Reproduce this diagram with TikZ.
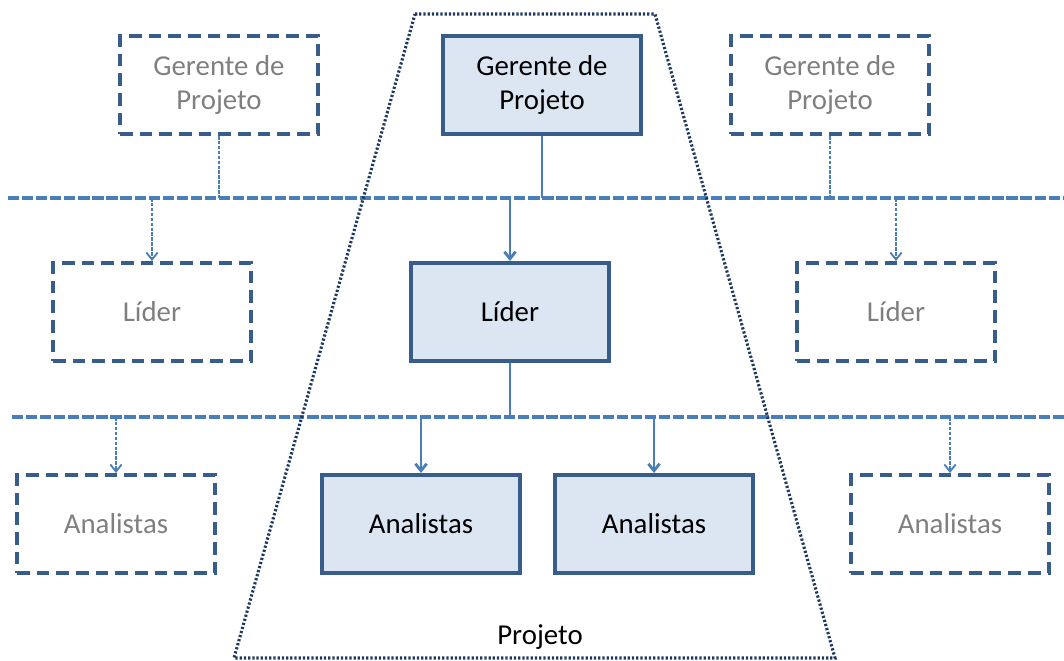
\documentclass[tikz,border=0pt]{standalone}
\usepackage{fontspec}
\setmainfont{Carlito}
\usetikzlibrary{arrows.meta,positioning,calc}
\definecolor{boxline}{HTML}{385D8A}
\definecolor{boxfill}{HTML}{DCE6F2}
\definecolor{linkblue}{HTML}{4A7EBB}
\definecolor{ghosttext}{HTML}{7F7F7F}
\definecolor{projline}{HTML}{1F3A60}

\begin{document}
\begin{tikzpicture}[x=0.025cm,y=-0.025cm,>={Straight Barb[length=5pt,width=8pt]},
  font=\fontsize{20.5}{24}\selectfont]
\tikzstyle{role} = [draw = boxline, rectangle, line width = 2.8pt, minimum width = 4.95cm,
                    minimum height = 2.45cm, inner sep = 0pt, align = center]
\tikzstyle{inproj} = [role, fill = boxfill, text = black]
\tikzstyle{other} = [role, dash pattern = on 9pt off 5pt, text = ghosttext]
\tikzstyle{bar} = [draw = linkblue, line width = 2.6pt, dash pattern = on 8pt off 2pt]
\tikzstyle{link} = [draw = linkblue, line width = 2pt]
\tikzstyle{weaklink} = [draw = linkblue, line width = 1.3pt, dash pattern = on 2.5pt off 1pt]

\useasboundingbox (0,0) rectangle (1064,660);

% gerentes
\node[other]  (ger1) at (219,85) {Gerente de\\Projeto};
\node[inproj] (ger2) at (542,85) {Gerente de\\Projeto};
\node[other]  (ger3) at (830,85) {Gerente de\\Projeto};

% lideres
\node[other]  (lid1) at (152,312) {Líder};
\node[inproj] (lid2) at (510,312) {Líder};
\node[other]  (lid3) at (896,312) {Líder};

% analistas
\node[other]  (ana1) at (116,524) {Analistas};
\node[inproj] (ana2) at (421,524) {Analistas};
\node[inproj] (ana3) at (654,524) {Analistas};
\node[other]  (ana4) at (950,524) {Analistas};

% barras
\coordinate (barA-w) at (8,198);
\coordinate (barA-e) at (1064,198);
\coordinate (barB-w) at (12,417);
\coordinate (barB-e) at (1064,417);
\draw[bar] (barA-w) -- (barA-e);
\draw[bar] (barB-w) -- (barB-e);

% ligacoes
\draw[weaklink] (ger1.south) -- (ger1.south |- barA-w);
\draw[link]     (ger2.south) -- (ger2.south |- barA-w);
\draw[weaklink] (ger3.south) -- (ger3.south |- barA-w);
\draw[weaklink,->] (lid1.north |- barA-w) -- (lid1.north);
\draw[link,->]     (lid2.north |- barA-w) -- (lid2.north);
\draw[weaklink,->] (lid3.north |- barA-w) -- (lid3.north);
\draw[link]     (lid2.south) -- (lid2.south |- barB-w);
\draw[weaklink,->] (ana1.north |- barB-w) -- (ana1.north);
\draw[link,->]     (ana2.north |- barB-w) -- (ana2.north);
\draw[link,->]     (ana3.north |- barB-w) -- (ana3.north);
\draw[weaklink,->] (ana4.north |- barB-w) -- (ana4.north);

% projeto
\draw[projline, line width = 2.2pt, dash pattern = on 1.6pt off 1.4pt]
  (415,14) -- (655,14) -- (835,658) -- (234,658) -- cycle;
\node (proj) at (540,637) {Projeto};
\end{tikzpicture}
\end{document}
